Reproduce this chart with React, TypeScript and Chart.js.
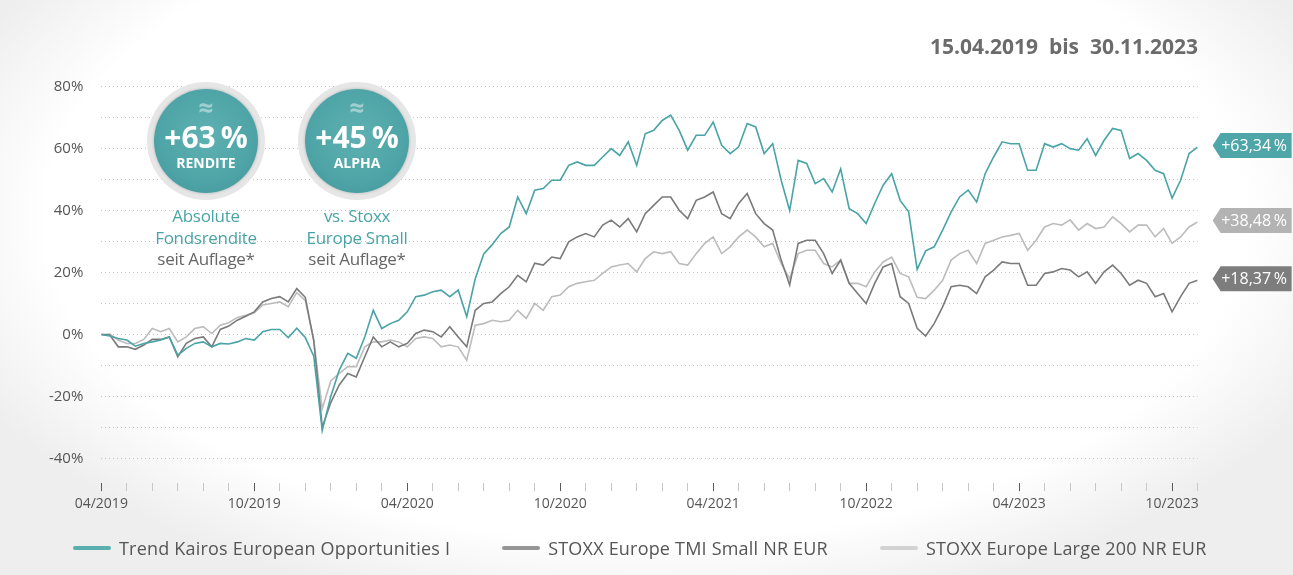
import React, { useEffect, useRef } from "react";
import { Chart, registerables } from "chart.js";

Chart.register(...registerables);

// ---- data -------------------------------------------------------------
// one value every 1/3 month, starting 04/2019 (index / 3 = month index)
const trendKairos: number[] = [
  0, -0.5, -1.3, -1.8, -3.8, -2.9, -2.4, -1.8, -0.8, -6.7,
  -4.5, -2.9, -2.4, -4.0, -2.9, -3.1, -2.4, -1.3, -1.8, 0.9,
  1.6, 1.6, -1, 2, -1, -7, -31, -20, -11.5, -6.1,
  -7.7, -0.8, 7.8, 1.9, 3.5, 4.6, 7.3, 12.2, 12.7, 13.8,
  14.3, 12.2, 14.3, 5.7, 18, 26, 29, 32.6, 34.7, 44.4,
  39, 46.6, 47.1, 49.8, 49.8, 54.6, 55.7, 54.6, 54.6, 57.3,
  60, 57.8, 62.2, 54.6, 64.8, 65.9, 69.1, 70.8, 65.9, 59.5,
  64.3, 64.3, 68.6, 61.1, 58.4, 60.6, 68.1, 67, 58.4, 61.6,
  49.8, 40, 56.2, 55.2, 48.7, 50.3, 46, 53.5, 40.6, 39,
  35.8, 42.3, 48.2, 51.9, 43.3, 39.6, 21, 27, 28.3, 33.7,
  39.6, 44.4, 46.6, 42.8, 51.9, 57.3, 62.2, 61.6, 61.6, 53,
  53, 61.6, 60.5, 61.6, 60, 59.5, 63.2, 57.8, 62.7, 66.5,
  65.9, 56.8, 58.4, 56.2, 53, 51.9, 44, 49.8, 58.4, 60.5,
];

const stoxxSmall: number[] = [
  0, -0.2, -4, -4, -4.8, -3.4, -1.6, -1.6, -0.8, -7.2,
  -2.9, -1.3, -0.8, -4.0, 1.6, 2.7, 4.6, 5.9, 7.3, 10.5,
  11.6, 12.2, 10.5, 14.8, 12, -2, -30, -22, -16.3, -12.6,
  -13.7, -7.2, -0.8, -4, -2.4, -4, -2.9, 0.3, 1.4, 0.9,
  -0.8, 2.5, -0.8, -4, 7.8, 10, 10.5, 13.2, 15.4, 19.1,
  17, 23, 22.4, 25, 24.5, 29.9, 31.5, 32.6, 31.5, 35.3,
  36.9, 34.7, 37.4, 33.1, 39, 41.7, 44.4, 44.4, 40.1, 37.4,
  43.3, 44.4, 46, 39, 37.4, 42.3, 45.5, 39, 35.8, 33.7,
  24, 16, 29.4, 30.4, 30.4, 26.1, 19.7, 24, 16.5, 13.2,
  10, 16.5, 21.8, 22.9, 12.2, 10, 2, -0.5, 3.5, 8.9,
  15.4, 15.9, 15.4, 13.2, 18.6, 20.8, 23.4, 22.9, 22.9, 15.9,
  15.9, 19.7, 20.2, 21.3, 20.8, 18.6, 20.2, 16.5, 20.2, 22.4,
  19.7, 15.9, 17.5, 16.5, 12.2, 13.2, 7.3, 12.2, 16.5, 17.5,
];

const stoxxLarge: number[] = [
  0, 0.1, -1.8, -2.9, -2.9, -1.6, 1.9, 0.9, 1.9, -2.4,
  -0.8, 1.9, 2.5, 0.3, 3.0, 3.8, 5.5, 6.2, 7.0, 9.5,
  10.0, 10.5, 9, 13.5, 11, -2, -24, -15, -12.6, -10.4,
  -10.4, -4.0, -2.4, -2.4, -1.8, -2.4, -4, -1.3, -0.8, -1.3,
  -4, -3.4, -4, -8.3, 3, 3.5, 4.6, 4.1, 4.6, 7.8,
  5.2, 10, 7.8, 12.2, 12.7, 15.4, 16.5, 17, 17.5, 19.7,
  21.8, 22.4, 22.9, 20.2, 24.5, 26.7, 26.1, 26.7, 22.9, 22.4,
  26.1, 29.4, 31.5, 26.1, 28.3, 31.5, 33.7, 31.5, 28.3, 29.4,
  22.9, 18, 26.1, 27.2, 27.2, 22.9, 21.8, 24, 16.5, 16.5,
  15.4, 20.2, 23.4, 25, 19.7, 18.6, 12, 11.6, 14.3, 17.5,
  24, 26.1, 27.2, 22.9, 29.4, 30.4, 31.5, 32, 32.6, 27.2,
  30.4, 34.7, 35.8, 35.3, 37, 33.7, 35.8, 34.2, 34.7, 38,
  35.8, 33.1, 35.3, 35.3, 31.5, 34.2, 29.4, 31.5, 34.7, 36.3,
];

const seriesNames: string[] = [
  "Trend Kairos European Opportunities I",
  "STOXX Europe TMI Small NR EUR",
  "STOXX Europe Large 200 NR EUR",
];
const endLabels: string[] = ["+63,34\u2009%", "+18,37\u2009%", "+38,48\u2009%"];
const xTickLabels: string[] = [
  "04/2019", "10/2019", "04/2020", "10/2020", "04/2021", "10/2022", "04/2023", "10/2023",
];
const yTickValues: number[] = [-40, -30, -20, -10, 0, 10, 20, 30, 40, 50, 60, 70, 80];
const monthCount = 43;
const pointsPerMonth = 3;
const periodText = "15.04.2019\u00a0 bis \u00a030.11.2023";

const badges = [
  { value: "+63\u2009%", word: "RENDITE", line1: "Absolute", line2: "Fondsrendite", line3: "seit Auflage*" },
  { value: "+45\u2009%", word: "ALPHA", line1: "vs. Stoxx", line2: "Europe Small", line3: "seit Auflage*" },
];

// ---- styling ----------------------------------------------------------
const FONT = "'Open Sans', 'Noto Sans', sans-serif";
const TEAL = "#4aa3a6";
const lineColors = [TEAL, "#7a7a7a", "#bcbcbc"];
const tagColors = ["#4fa6a8", "#7d7d7d", "#b3b3b3"];
const legendColors = ["#5aaeb0", "#959595", "#d2d2d2"];

const endTagPlugin = {
  id: "endTags",
  afterDatasetsDraw(chart: any) {
    const ctx = chart.ctx;
    const right = chart.chartArea.right;
    chart.data.datasets.forEach((_: any, i: number) => {
      const meta = chart.getDatasetMeta(i);
      const last = meta.data[meta.data.length - 1];
      if (!last) return;
      const cy = last.y - 1.5;
      const tip = right + 15;
      const bodyL = tip + 8;
      const bodyR = right + 94;
      const h = 25;
      ctx.save();
      ctx.fillStyle = tagColors[i];
      ctx.beginPath();
      ctx.moveTo(tip, cy);
      ctx.lineTo(bodyL, cy - h / 2);
      ctx.lineTo(bodyR, cy - h / 2);
      ctx.lineTo(bodyR, cy + h / 2);
      ctx.lineTo(bodyL, cy + h / 2);
      ctx.closePath();
      ctx.fill();
      ctx.fillStyle = "#ffffff";
      ctx.font = `16px ${FONT}`;
      ctx.textAlign = "center";
      ctx.textBaseline = "middle";
      ctx.fillText(endLabels[i], (bodyL + bodyR) / 2 - 2, cy + 1);
      ctx.restore();
    });
  },
};

function Badge({ cx, b }: { cx: number; b: (typeof badges)[number] }) {
  const R = 59;
  const top = 141 - R;
  return (
    <>
      <div
        style={{
          position: "absolute",
          left: cx - R,
          top,
          width: 2 * R,
          height: 2 * R,
          borderRadius: "50%",
          background: "radial-gradient(circle at 50% 50%, #e6e6e6 80%, #d2d2d2 100%)",
        }}
      >
        <div
          style={{
            position: "absolute",
            left: 7,
            top: 7,
            right: 7,
            bottom: 7,
            borderRadius: "50%",
            background: "radial-gradient(circle at 50% 45%, #5fb1b2 0%, #4ea4a6 60%, #3f9497 100%)",
            boxShadow: "0 0 3px rgba(0,0,0,0.25)",
          }}
        />
        <div style={{ position: "absolute", left: 0, width: 2 * R, top: 10, textAlign: "center", color: "rgba(255,255,255,0.45)", font: `bold 26px ${FONT}`, lineHeight: "30px" }}>≈</div>
        <div style={{ position: "absolute", left: 0, width: 2 * R, top: 37, textAlign: "center", color: "#fff", font: `bold 30px ${FONT}`, lineHeight: "36px" }}>{b.value}</div>
        <div style={{ position: "absolute", left: 0, width: 2 * R, top: 72, textAlign: "center", color: "#fff", font: `bold 14px ${FONT}`, lineHeight: "18px" }}>{b.word}</div>
      </div>
      <div style={{ position: "absolute", left: cx - 80, width: 160, top: 205, textAlign: "center", font: `17px ${FONT}`, lineHeight: "21.7px", letterSpacing: "-0.3px" }}>
        <div style={{ color: TEAL }}>{b.line1}</div>
        <div style={{ color: TEAL }}>{b.line2}</div>
        <div style={{ color: "#666" }}>{b.line3}</div>
      </div>
    </>
  );
}

export default function App() {
  const canvasRef = useRef<HTMLCanvasElement | null>(null);

  useEffect(() => {
    const canvas = canvasRef.current;
    if (!canvas) return;
    const toPoints = (arr: number[]) => arr.map((v, i) => ({ x: i / pointsPerMonth, y: v }));
    const all = [trendKairos, stoxxSmall, stoxxLarge];
    const chart = new Chart(canvas, {
      type: "line",
      data: {
        datasets: all.map((arr, i) => ({
          label: seriesNames[i],
          data: toPoints(arr),
          borderColor: lineColors[i],
          backgroundColor: lineColors[i],
          borderWidth: 1.6,
          pointRadius: 0,
          tension: 0,
          fill: false,
        })),
      },
      options: {
        responsive: false,
        animation: false,
        devicePixelRatio: 1,
        layout: { padding: { top: 86.7, right: 95.4, left: 0, bottom: 0 } },
        plugins: { legend: { display: false }, tooltip: { enabled: false } },
        scales: {
          x: {
            type: "linear",
            min: 0,
            max: monthCount,
            afterBuildTicks: (s: any) => {
              s.ticks = Array.from({ length: monthCount + 1 }, (_, i) => ({ value: i }));
            },
            afterFit: (s: any) => {
              s.height = 91.9;
            },
            border: { display: false },
            grid: {
              drawOnChartArea: false,
              drawTicks: true,
              tickLength: 8,
              lineWidth: 1,
              color: (c: any) => (c.tick && c.tick.value % 6 === 0 ? "#5a5a5a" : "#c8c8c8"),
              tickColor: (c: any) => (c.tick && c.tick.value % 6 === 0 ? "#5a5a5a" : "#c8c8c8"),
            },
            ticks: {
              autoSkip: false,
              maxRotation: 0,
              padding: 5,
              color: "#555",
              font: { family: FONT, size: 14 },
              callback: (v: any) => (Number(v) % 6 === 0 ? xTickLabels[Number(v) / 6] ?? "" : ""),
            },
          },
          y: {
            min: -48,
            max: 80,
            afterBuildTicks: (s: any) => {
              s.ticks = yTickValues.map((v) => ({ value: v }));
            },
            afterFit: (s: any) => {
              s.width = 101.3;
            },
            border: { display: false, dash: [1, 3] },
            grid: { color: "#c4c4c4", lineWidth: 1, drawTicks: false },
            ticks: {
              padding: 18,
              color: "#555",
              font: { family: FONT, size: 15 },
              callback: (v: any) => (Number(v) % 20 === 0 ? `${v}%` : ""),
            },
          },
        },
      } as any,
      plugins: [endTagPlugin],
    });
    return () => chart.destroy();
  }, []);

  return (
    <div
      style={{
        position: "absolute",
        left: 0,
        top: 0,
        width: 1293,
        height: 575,
        overflow: "hidden",
        fontFamily: FONT,
        background: "radial-gradient(ellipse 58% 70% at 50% 38%, #ffffff 80%, #eeeeee 100%)",
      }}
    >
      <canvas ref={canvasRef} width={1293} height={575} style={{ position: "absolute", left: 0, top: 0 }} />
      <div
        style={{
          position: "absolute",
          right: 95,
          top: 31,
          color: "#6b6b6b",
          font: `bold 21px ${FONT}`,
          lineHeight: "30px",
          whiteSpace: "nowrap",
        }}
      >
        {periodText}
      </div>
      <Badge cx={206} b={badges[0]} />
      <Badge cx={357} b={badges[1]} />
      <div
        style={{
          position: "absolute",
          left: 73,
          top: 535,
          display: "flex",
          alignItems: "center",
          gap: 52,
          whiteSpace: "nowrap",
        }}
      >
        {seriesNames.map((n, i) => (
          <div key={n} style={{ display: "flex", alignItems: "center" }}>
            <div style={{ width: 38, height: 4, borderRadius: 2, background: legendColors[i], marginRight: 8 }} />
            <span style={{ color: "#555", font: `18px ${FONT}`, lineHeight: "26px", letterSpacing: "0.2px" }}>{n}</span>
          </div>
        ))}
      </div>
    </div>
  );
}
